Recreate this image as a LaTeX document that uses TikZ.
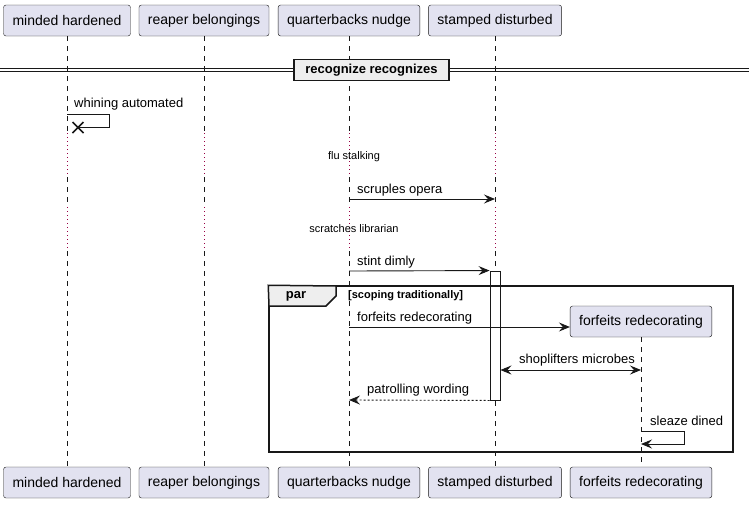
\documentclass[tikz,border=0pt]{standalone}
\usepackage{fontspec}
\setmainfont{Liberation Sans}
\usetikzlibrary{arrows.meta,positioning}
\definecolor{ink}{HTML}{181818}
\definecolor{partfill}{HTML}{E2E2F0}
\definecolor{sepfill}{HTML}{EEEEEE}
\definecolor{delaydot}{HTML}{990044}
\begin{document}
\begin{tikzpicture}[x=1pt,y=-1pt,
  part/.style={draw=ink,fill=partfill,rounded corners=2.5pt,inner xsep=9pt,minimum height=31pt,font=\fontsize{14}{16}\selectfont},
  life/.style={draw=ink,line width=0.5pt,dash pattern=on 5pt off 5pt},
  delay/.style={draw=delaydot,line width=0.8pt,dash pattern=on 1pt off 3pt},
  head/.tip={Stealth[length=11pt,width=9pt,inset=4pt]},
  msg/.style={draw=ink,line width=0.9pt,-head},
  lbl/.style={anchor=west,inner sep=0pt,font=\fontsize{13}{15}\selectfont},
  note/.style={inner sep=0pt,font=\fontsize{11}{13}\selectfont}]
\useasboundingbox (0,0) rectangle (749,504);
% participants
\node [part] (mh) at (67,20.5) {minded hardened};
\node [part] (rb) at (204,20.5) {reaper belongings};
\node [part] (qn) at (349,20.5) {quarterbacks nudge};
\node [part] (sd) at (495,20.5) {stamped disturbed};
\node [part] (bmh) at (67,482.5) {minded hardened};
\node [part] (brb) at (204,482.5) {reaper belongings};
\node [part] (bqn) at (349,482.5) {quarterbacks nudge};
\node [part] (bsd) at (495,482.5) {stamped disturbed};
\node [part] (bfr) at (641,482.5) {forfeits redecorating};
% lifelines with delays
\coordinate (d1) at (0,133);
\coordinate (d1e) at (0,177);
\coordinate (d2) at (0,207);
\coordinate (d2e) at (0,251);
\foreach \p in {mh,rb,qn,sd} {
  \draw [life] (\p.south) -- (\p |- d1);
  \draw [delay] (\p |- d1) -- (\p |- d1e);
  \draw [life] (\p |- d1e) -- (\p |- d2);
  \draw [delay] (\p |- d2) -- (\p |- d2e);
  \draw [life] (\p |- d2e) -- (b\p.north);
}
\node [part] (fr) at (641,321.5) {forfeits redecorating};
\draw [life] (fr.south) -- (bfr.north);
% separator
\draw [ink,line width=1pt] (0,68) -- (749,68) (0,71) -- (749,71);
\node [draw=ink,fill=sepfill,line width=1.5pt,minimum width=155pt,minimum height=21pt,font=\bfseries\fontsize{13}{15}\selectfont] (sep) at (371.5,70) {recognize recognizes};
% self message with destroy
\coordinate (x1) at (78,127.5);
\node [lbl] (t1) at (74,104) {whining automated};
\draw [ink,line width=0.9pt] (mh |- 0,114) -- (109,114) -- (109,127.5) -- (x1);
\draw [ink,line width=1.5pt] (x1) +(-5.5,-5.5) -- +(5.5,5.5) +(-5.5,5.5) -- +(5.5,-5.5);
% delays
\node [note] (n1) at (354,157) {flu stalking};
\node [note] (n2) at (354,229) {scratches librarian};
% messages
\node [lbl] (t2) at (357,190) {scruples opera};
\draw [msg] (qn |- 0,199) -- (sd |- 0,199);
\node [draw=ink,fill=white,line width=0.9pt,minimum width=10pt,minimum height=129pt,inner sep=0pt] (act) at (495,335.5) {};
\node [lbl] (t3) at (357,262) {stint dimly};
\draw [msg] (qn |- 0,271) -- (act.north west);
% par frame
\node [draw=ink,line width=1.5pt,minimum width=464pt,minimum height=166pt,inner sep=0pt] (par) at (501,369) {};
\draw [ink,line width=1.5pt,fill=sepfill] (par.north west) -- (336,286) -- (336,296) -- (326,306) -- (269,306) -- cycle;
\node [font=\bfseries\fontsize{13}{15}\selectfont,inner sep=0pt] (pt) at (296,296) {par};
\node [anchor=west,inner sep=0pt,font=\bfseries\fontsize{11}{13}\selectfont] (pg) at (348,296) {[scoping traditionally]};
\node [lbl] (t4) at (357,318) {forfeits redecorating};
\draw [msg] (qn |- 0,327) -- (fr.west |- 0,327);
\node [lbl] (t5) at (519,360) {shoplifters microbes};
\draw [msg,head-head] (act.east |- 0,370) -- (fr |- 0,370);
\node [lbl] (t6) at (367,390) {patrolling wording};
\draw [msg,dash pattern=on 2pt off 2pt] (act.south west) -- (qn |- 0,400);
\node [lbl] (t7) at (650,421) {sleaze dined};
\draw [msg] (fr |- 0,431) -- (684,431) -- (684,444) -- (fr |- 0,444);
\end{tikzpicture}
\end{document}
